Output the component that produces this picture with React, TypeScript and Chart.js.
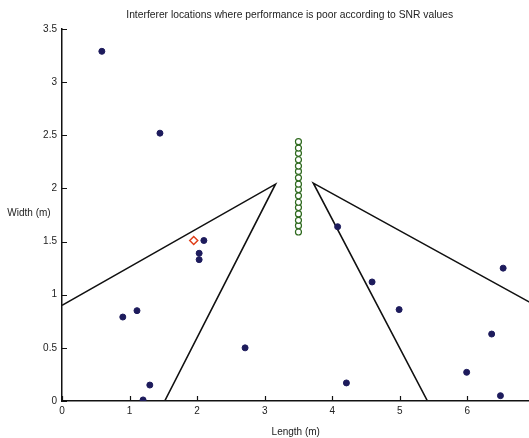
import React, { useEffect, useRef } from "react";
import { Chart, registerables } from "chart.js";

Chart.register(...registerables);

// Interferer locations (poor SNR) – x: length (m), y: width (m)
const interfererX = [0.59, 1.45, 2.10, 2.03, 2.03, 0.90, 1.11, 2.71, 1.30, 1.20, 4.08, 4.59, 4.99, 4.21, 6.53, 6.36, 5.99, 6.49];
const interfererY = [3.29, 2.52, 1.51, 1.39, 1.33, 0.79, 0.85, 0.50, 0.15, 0.01, 1.64, 1.12, 0.86, 0.17, 1.25, 0.63, 0.27, 0.05];

// Target source (red diamond)
const sourceX = [1.95];
const sourceY = [1.51];

// Microphone array (green circles)
const micX = [3.5, 3.5, 3.5, 3.5, 3.5, 3.5, 3.5, 3.5, 3.5, 3.5, 3.5, 3.5, 3.5, 3.5, 3.5, 3.5];
const micY = [1.59, 1.65, 1.70, 1.76, 1.82, 1.87, 1.93, 1.99, 2.04, 2.10, 2.16, 2.21, 2.27, 2.33, 2.38, 2.44];

// Boundary lines
const leftLineX = [0, 3.16, 1.52];
const leftLineY = [0.9, 2.04, 0];
const rightLineX = [6.92, 3.72, 5.41];
const rightLineY = [0.93, 2.05, 0];

// Axes
const xTicks = [0, 1, 2, 3, 4, 5, 6];
const yTicks = [0, 0.5, 1, 1.5, 2, 2.5, 3, 3.5];
const xMin = 0;
const xMax = 6.92;
const yMin = 0;
const yMax = 3.5;

const titleText = "Interferer locations where performance is poor according to SNR values";
const xLabel = "Length (m)";
const yLabel = "Width (m)";

const FONT = "'Liberation Sans', Arial, Helvetica, sans-serif";

const zip = (xs: number[], ys: number[]) => xs.map((x, i) => ({ x, y: ys[i] }));

export default function App() {
  const ref = useRef<HTMLCanvasElement | null>(null);

  useEffect(() => {
    if (!ref.current) return;

    const annotations = {
      id: "annotations",
      afterDraw(chart: any) {
        const ctx = chart.ctx;
        const { left, top, bottom } = chart.chartArea;
        const xs = chart.scales.x;
        const ys = chart.scales.y;
        ctx.save();
        // inward tick marks
        ctx.strokeStyle = "#111";
        ctx.lineWidth = 1.2;
        ctx.beginPath();
        xTicks.forEach((v) => {
          const px = Math.round(xs.getPixelForValue(v)) + 0.5;
          ctx.moveTo(px, bottom);
          ctx.lineTo(px, bottom - 5);
        });
        yTicks.forEach((v) => {
          const py = Math.round(ys.getPixelForValue(v)) + 0.5;
          ctx.moveTo(left, py);
          ctx.lineTo(left + 5, py);
        });
        ctx.stroke();
        // horizontal y-axis label
        ctx.fillStyle = "#222";
        ctx.font = `10px ${FONT}`;
        ctx.textAlign = "center";
        ctx.textBaseline = "middle";
        ctx.fillText(yLabel, left - 33, ys.getPixelForValue(1.77));
        // title
        ctx.font = `10.3px ${FONT}`;
        ctx.fillText(titleText, xs.getPixelForValue(3.37), top - 14);
        ctx.restore();
      },
    };

    const chart = new Chart(ref.current, {
      type: "scatter",
      data: {
        datasets: [
          {
            label: "Interferers",
            data: zip(interfererX, interfererY),
            pointStyle: "circle",
            pointRadius: 3,
            pointBackgroundColor: "#1d1b5c",
            pointBorderColor: "#1d1b5c",
            pointBorderWidth: 1,
            showLine: false,
          },
          {
            label: "Source",
            data: zip(sourceX, sourceY),
            pointStyle: "rectRot",
            pointRadius: 4,
            pointBackgroundColor: "#ffffff",
            pointBorderColor: "#e0401a",
            pointBorderWidth: 1.5,
            showLine: false,
          },
          {
            label: "Mics",
            data: zip(micX, micY),
            pointStyle: "circle",
            pointRadius: 3,
            pointBackgroundColor: "#ffffff",
            pointBorderColor: "#2f6a1f",
            pointBorderWidth: 1.2,
            showLine: false,
          },
          {
            label: "Left",
            data: zip(leftLineX, leftLineY),
            showLine: true,
            pointRadius: 0,
            borderColor: "#111",
            borderWidth: 1.6,
            tension: 0,
          },
          {
            label: "Right",
            data: zip(rightLineX, rightLineY),
            showLine: true,
            pointRadius: 0,
            borderColor: "#111",
            borderWidth: 1.6,
            tension: 0,
          },
        ],
      },
      options: {
        responsive: false,
        animation: false,
        layout: { padding: { left: 0, right: 0, top: 29, bottom: 0 } },
        plugins: {
          legend: { display: false },
          tooltip: { enabled: false },
          title: { display: false },
        },
        scales: {
          x: {
            type: "linear",
            min: xMin,
            max: xMax,
            grid: { display: false, drawTicks: false },
            border: { display: true, color: "#111", width: 1.5 },
            afterBuildTicks: (scale: any) => {
              scale.ticks = xTicks.map((v) => ({ value: v }));
            },
            afterFit: (scale: any) => {
              scale.height = 37;
              scale.paddingRight = 0;
              scale.paddingLeft = 0;
            },
            ticks: {
              color: "#222",
              font: { family: FONT, size: 10 },
              padding: 4,
              maxRotation: 0,
              autoSkip: false,
              callback: (v: any) => String(v),
            },
            title: {
              display: true,
              text: xLabel,
              color: "#222",
              font: { family: FONT, size: 10 },
              padding: { top: 5, bottom: 0 },
            },
          },
          y: {
            type: "linear",
            min: yMin,
            max: yMax,
            grid: { display: false, drawTicks: false },
            border: { display: true, color: "#111", width: 1.5 },
            afterBuildTicks: (scale: any) => {
              scale.ticks = yTicks.map((v) => ({ value: v }));
            },
            afterFit: (scale: any) => {
              scale.width = 62;
            },
            ticks: {
              color: "#222",
              font: { family: FONT, size: 10 },
              padding: 5,
              autoSkip: false,
              callback: (v: any) => String(v),
            },
          },
        },
      },
      plugins: [annotations],
    } as any);

    return () => chart.destroy();
  }, []);

  return (
    <div style={{ position: "fixed", left: 0, top: 0, width: 529, height: 438, background: "#fff", overflow: "hidden" }}>
      <canvas ref={ref} width={535} height={438} style={{ display: "block", width: 535, height: 438 }} />
    </div>
  );
}
